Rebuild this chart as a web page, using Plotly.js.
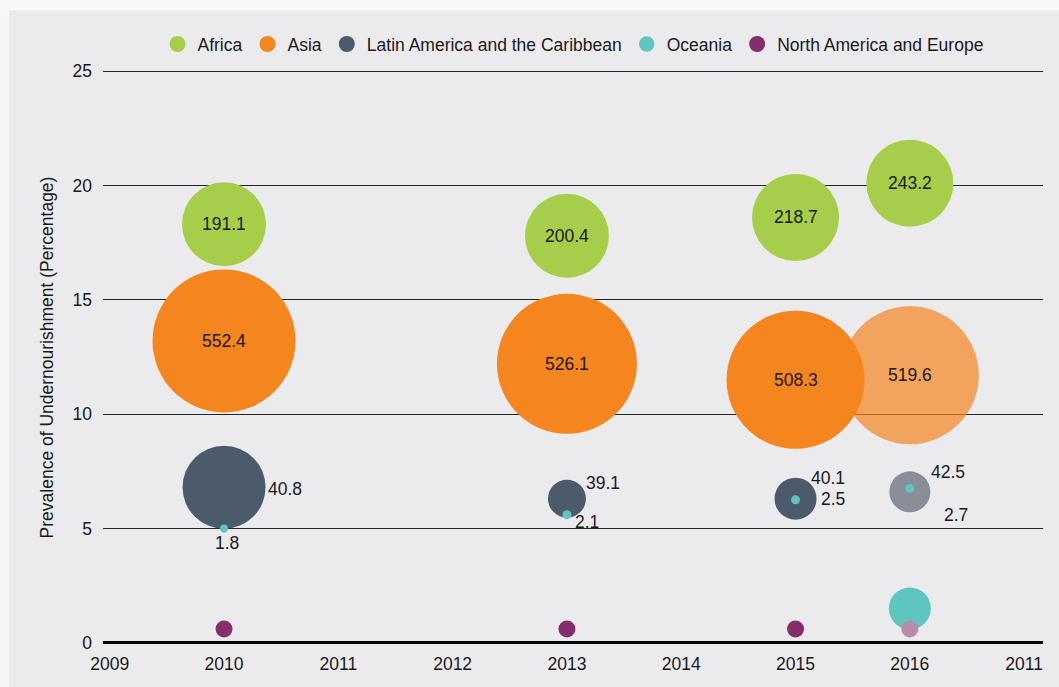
<!DOCTYPE html>
<html>
<head>
<meta charset="utf-8">
<script src="https://cdn.plot.ly/plotly-3.0.1.min.js"></script>
<style>
  html, body { margin: 0; padding: 0; background: #ebebed; }
  #chart { width: 1059px; height: 687px; }
</style>
</head>
<body>
<div id="chart"></div>
<script>
// ---- Data ----
const years = [2010, 2013, 2015, 2016];

const africaPrev = [18.3, 17.8, 18.6, 20.1];
const africaMillions = [191.1, 200.4, 218.7, 243.2];

const asiaPrev = [13.2, 12.2, 11.5, 11.7];
const asiaMillions = [552.4, 526.1, 508.3, 519.6];

const lacPrev = [6.8, 6.3, 6.3, 6.6];
const lacMillions = [40.8, 39.1, 40.1, 42.5];

const oceaniaYears = [2010, 2013, 2015, 2016, 2016];
const oceaniaPrev = [5.0, 5.6, 6.25, 6.75, 1.5];
const oceaniaMillions = [1.8, 2.1, 2.5, 2.7, null];

const naePrev = [0.6, 0.6, 0.6, 0.6];

const seriesNames = ['Africa', 'Asia', 'Latin America and the Caribbean', 'Oceania', 'North America and Europe'];

const xTickYears = [2009, 2010, 2011, 2012, 2013, 2014, 2015, 2016, 2017];
const xTickLabels = ['2009', '2010', '2011', '2012', '2013', '2014', '2015', '2016', '2011'];
const yTickValues = [0, 5, 10, 15, 20, 25];

// ---- Styles ----
const FONT = 'Liberation Sans, Arial, Helvetica, sans-serif';
const FS = 17.5;
const TXT = '#1a1a1a';
const cGreen = '#a6ce4b', cOrange = '#f5851f', cDark = '#4b5b6b', cCyan = '#5ec5c0', cPurple = '#862d6b';

const africaSizes = [84, 84, 87, 87];
const asiaSizes = [143, 140, 138, 138];
const lacSizes = [83, 38, 42, 41];
const oceaniaSizes = [8, 9, 9, 9, 42];
const naeSizes = [17, 17, 17, 17];

const asiaColors = [cOrange, cOrange, cOrange, 'rgba(245,133,31,0.7)'];
const lacColors = [cDark, cDark, cDark, '#8a8e99'];
const naeColors = [cPurple, cPurple, cPurple, '#b98ba6'];

function bubble(name, x, y, sizes, colors) {
  return {
    type: 'scatter', mode: 'markers', name: name, x: x, y: y,
    marker: { size: sizes, sizemode: 'diameter', color: colors, line: { width: 0 }, opacity: 1 },
    hoverinfo: 'skip', cliponaxis: false
  };
}

const traces = [
  bubble(seriesNames[0], years, africaPrev, africaSizes, cGreen),
  bubble(seriesNames[1], years, asiaPrev, asiaSizes, asiaColors),
  bubble(seriesNames[2], years, lacPrev, lacSizes, lacColors),
  bubble(seriesNames[3], oceaniaYears, oceaniaPrev, oceaniaSizes, cCyan),
  bubble(seriesNames[4], years, naePrev, naeSizes, naeColors)
];

// ---- Value labels ----
const centerOff = [{a: 'center', dx: 0, dy: 0}, {a: 'center', dx: 0, dy: 0}, {a: 'center', dx: 0, dy: 0}, {a: 'center', dx: 0, dy: 0}];
const lacOff = [{a: 'left', dx: 42, dy: -2}, {a: 'left', dx: 17, dy: 16}, {a: 'left', dx: 13.5, dy: 20.5}, {a: 'left', dx: 19, dy: 20}];
const oceOff = [{a: 'center', dx: 3, dy: -14.6}, {a: 'left', dx: 6, dy: -7.3}, {a: 'left', dx: 23.5, dy: 1}, {a: 'left', dx: 32, dy: -26.6}, null];

const annotations = [];
function addLabels(xs, ys, vals, offs) {
  xs.forEach(function (x, i) {
    if (vals[i] === null || !offs[i]) return;
    annotations.push({
      x: x, y: ys[i], xref: 'x', yref: 'y', text: vals[i].toFixed(1), showarrow: false,
      xanchor: offs[i].a, yanchor: 'middle', xshift: offs[i].dx, yshift: offs[i].dy,
      font: { family: FONT, size: FS, color: TXT }
    });
  });
}
addLabels(years, africaPrev, africaMillions, centerOff);
addLabels(years, asiaPrev, asiaMillions, centerOff);
addLabels(years, lacPrev, lacMillions, lacOff);
addLabels(oceaniaYears, oceaniaPrev, oceaniaMillions, oceOff);

const layout = {
  width: 1059, height: 687,
  margin: { l: 103, r: 16, t: 70, b: 42, pad: 0, autoexpand: false },
  paper_bgcolor: '#ebebed', plot_bgcolor: '#ebebed',
  font: { family: FONT, size: FS, color: TXT },
  showlegend: true,
  legend: {
    orientation: 'h', x: 0.5, xanchor: 'center', y: 1.045, yanchor: 'middle',
    font: { family: FONT, size: FS, color: TXT }, bgcolor: 'rgba(0,0,0,0)',
    traceorder: 'normal'
  },
  xaxis: {
    range: [2008.941, 2017.165], tickmode: 'array', tickvals: xTickYears, ticktext: xTickLabels,
    showgrid: false, zeroline: false, showline: false, ticks: '', ticklabelstandoff: 6,
    tickfont: { family: FONT, size: FS, color: TXT }, fixedrange: true
  },
  yaxis: {
    range: [-0.1, 25.05], tickmode: 'array', tickvals: yTickValues,
    showgrid: true, gridcolor: '#262626', gridwidth: 1,
    zeroline: true, zerolinecolor: '#000000', zerolinewidth: 3,
    showline: false, ticks: '', ticklabelstandoff: 10,
    tickfont: { family: FONT, size: FS, color: TXT }, fixedrange: true,
    title: { text: 'Prevalence of Undernourishment (Percentage)', standoff: 14, font: { family: FONT, size: FS, color: TXT } }
  },
  shapes: [
    { type: 'rect', xref: 'paper', yref: 'paper', x0: -0.12, x1: -0.1, y0: -0.1, y1: 1.13, fillcolor: '#f6f6f6', line: { width: 0 }, layer: 'below' },
    { type: 'rect', xref: 'paper', yref: 'paper', x0: -0.12, x1: 1.03, y0: 1.1038, y1: 1.13, fillcolor: '#f8f8f8', line: { width: 0 }, layer: 'below' }
  ],
  annotations: annotations,
  hovermode: false
};

Plotly.newPlot('chart', traces, layout, { displayModeBar: false, staticPlot: true });
</script>
</body>
</html>
